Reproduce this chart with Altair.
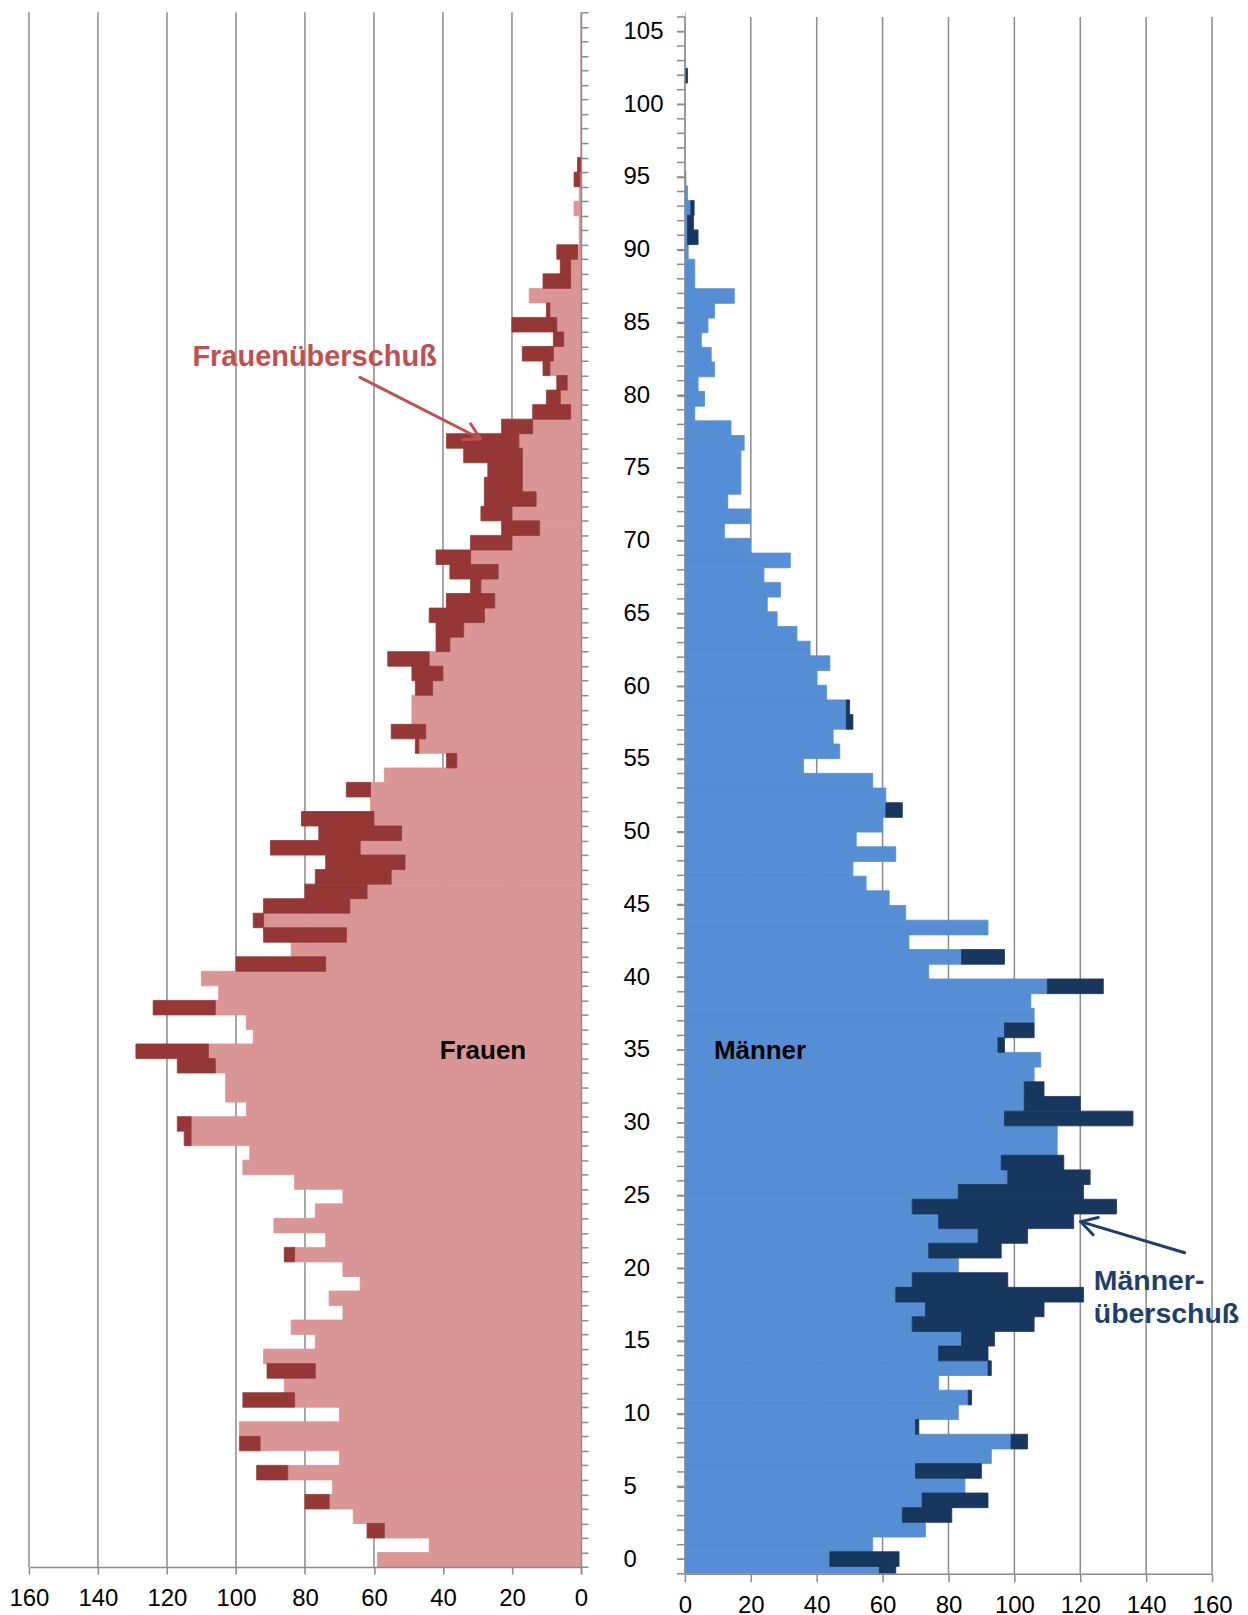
import math
import altair as alt
import pandas as pd

# ---------------- data (row k = 0 .. 106, bottom to top) ----------------
zeile = list(range(107))

frauen_basis = [
    59, 44, 57, 66, 73, 72, 85, 70, 93, 99,
    70, 83, 86, 77, 92, 77, 84, 69, 73, 64,
    69, 83, 74, 89, 77, 69, 83, 98, 96, 113,
    113, 97, 103, 103, 106, 108, 95, 97, 106, 105,
    110, 74, 84, 68, 92, 67, 62, 55, 51, 64,
    52, 60, 61, 61, 57, 36, 47, 45, 49, 49,
    43, 40, 44, 38, 34, 28, 25, 29, 24, 32,
    20, 12, 20, 13, 17, 17, 17, 18, 14, 3,
    6, 4, 9, 8, 5, 7, 9, 15, 3, 3,
    1, 0.5, 0.5, 2, 0.5, 0.3, 0, 0, 0, 0,
    0, 0, 0, 0, 0, 0, 0]

frauen_gesamt = [
    59, 44, 62, 66, 80, 72, 94, 70, 99, 99,
    70, 98, 86, 91, 92, 77, 84, 69, 73, 64,
    69, 86, 74, 89, 77, 69, 83, 98, 96, 115,
    117, 97, 103, 103, 117, 129, 95, 97, 124, 105,
    110, 100, 84, 92, 95, 92, 80, 77, 74, 90,
    76, 81, 61, 68, 57, 39, 48, 55, 49, 49,
    48, 49, 56, 42, 42, 44, 39, 32, 38, 42,
    32, 23, 29, 28, 28, 27, 34, 39, 23, 14,
    10, 7, 11, 17, 8, 20, 10, 15, 11, 6,
    7, 0.5, 0.5, 2, 0.5, 2, 1, 0, 0, 0,
    0, 0, 0, 0, 0, 0, 0]

maenner_basis = [
    59, 44, 57, 73, 66, 72, 85, 70, 93, 99,
    70, 83, 86, 77, 92, 77, 84, 69, 73, 64,
    69, 83, 74, 89, 77, 69, 83, 98, 96, 113,
    113, 97, 103, 103, 106, 108, 95, 97, 106, 105,
    110, 74, 84, 68, 92, 67, 62, 55, 51, 64,
    52, 60, 61, 61, 57, 36, 47, 45, 49, 49,
    43, 40, 44, 38, 34, 28, 25, 29, 24, 32,
    20, 12, 20, 13, 17, 17, 17, 18, 14, 3,
    6, 4, 9, 8, 5, 7, 9, 15, 3, 3,
    1, 0.8, 0.8, 1.8, 0.8, 0.3, 0, 0, 0, 0,
    0, 0, 0, 0, 0, 0, 0]

maenner_gesamt = [
    64, 65, 57, 73, 81, 92, 85, 90, 93, 104,
    71, 83, 87, 77, 93, 92, 94, 106, 109, 121,
    98, 83, 96, 104, 118, 131, 121, 123, 115, 113,
    113, 136, 120, 109, 106, 108, 97, 106, 106, 105,
    127, 74, 97, 68, 92, 67, 62, 55, 51, 64,
    52, 60, 66, 61, 57, 36, 47, 45, 51, 50,
    43, 40, 44, 38, 34, 28, 25, 29, 24, 32,
    20, 12, 20, 13, 17, 17, 17, 18, 14, 3,
    6, 4, 9, 8, 5, 7, 9, 15, 3, 3,
    1, 4, 2.6, 2.8, 0.8, 0.3, 0, 0, 0, 0,
    0, 0, 0.8, 0, 0, 0, 0]

x_werte = [0, 20, 40, 60, 80, 100, 120, 140, 160]
alter_beschriftung = list(range(0, 106, 5))
alter_striche = list(range(-1, 107))

# ---------------- style ----------------
FONT = "Liberation Sans"
GRAY = "#8A8A8A"
PINK = "#D99694"
DARKRED = "#953735"
BLUE = "#558ED5"
NAVY = "#17375E"
RED_TXT = "#C0504D"
NAVY_TXT = "#1F3F6B"

WL, WR, H = 552.9, 528.0, 1564.0

xL = alt.Scale(domain=[0, 160], reverse=True, nice=False, zero=False)
yL = alt.Scale(domain=[-0.96, 106.5], nice=False, zero=False)
xR = alt.Scale(domain=[0, 160], nice=False, zero=False)
yR = alt.Scale(domain=[-1, 106.32], nice=False, zero=False)

axis_common = dict(title=None, grid=False, domainColor=GRAY, domainWidth=1.5,
                   tickColor=GRAY, tickWidth=1.5, labelFont=FONT, labelFontSize=24,
                   labelColor="black", labelOverlap=False, labelFlush=False, zindex=1)

xaxisL = alt.Axis(values=x_werte, tickSize=7, labelPadding=12, offset=-6.7, format="d", **axis_common)
yaxisL = alt.Axis(orient="right", values=[k - 0.5 for k in range(108)], labels=False,
                  tickSize=7, **axis_common)
xaxisR = alt.Axis(values=x_werte, tickSize=8, labelPadding=12, format="d", **axis_common)
yaxisR = alt.Axis(orient="left", values=alter_beschriftung, domain=False, tickSize=8,
                  labelAlign="left", labelBaseline="middle", labelPadding=54, format="d",
                  **axis_common)


def XL(f):
    return alt.X(f, scale=xL, axis=xaxisL)


def YL(f):
    return alt.Y(f, scale=yL, axis=yaxisL)


def XR(f):
    return alt.X(f, scale=xR, axis=xaxisR)


def YR(f):
    return alt.Y(f, scale=yR, axis=yaxisR)


df_f = pd.DataFrame({"k": zeile, "basis": frauen_basis, "gesamt": frauen_gesamt})
df_m = pd.DataFrame({"k": zeile, "basis": maenner_basis, "gesamt": maenner_gesamt})
df_grid = pd.DataFrame({"v": x_werte[1:]})
df_ticks = pd.DataFrame({"t": alter_striche})

# ---------------- left panel (Frauen) ----------------
l_grid = alt.Chart(df_grid).transform_calculate(ya="-0.5", yb="106.5").mark_rule(
    color=GRAY, strokeWidth=1.5).encode(x=XL("v:Q"), y=YL("ya:Q"), y2="yb:Q")

l_base = alt.Chart(df_f).transform_calculate(
    y0="datum.k - 0.5", y1="datum.k + 0.5", z="0").mark_bar(
    color=PINK, stroke=PINK, strokeWidth=0.8, clip=True).encode(
    x=XL("z:Q"), x2="basis:Q", y=YL("y0:Q"), y2="y1:Q")

l_surplus = alt.Chart(df_f).transform_filter("datum.gesamt > datum.basis").transform_calculate(
    y0="datum.k - 0.5", y1="datum.k + 0.5").mark_bar(
    color=DARKRED, stroke=DARKRED, strokeWidth=0.8, clip=True).encode(
    x=XL("basis:Q"), x2="gesamt:Q", y=YL("y0:Q"), y2="y1:Q")


# annotation geometry (pixel model only used to shape arrowheads)
def l_px(x, y):
    return 580.7 - 3.455 * x, 1567.6 - 14.554 * (y + 0.5)


def l_val(px, py):
    return (580.7 - px) / 3.455, (1567.6 - py) / 14.554 - 0.5


def r_px(x, y):
    return 683.5 + 3.3 * x, 1574.3 - 14.57 * (y + 1)


def r_val(px, py):
    return (px - 683.5) / 3.3, (1574.3 - py) / 14.57 - 1


def arrow_segments(tail, tip, to_px, to_val, arm=18, deg=30):
    tx, ty = to_px(*tail)
    hx, hy = to_px(*tip)
    dx, dy = tx - hx, ty - hy
    n = math.hypot(dx, dy)
    ux, uy = dx / n, dy / n
    segs = [(tail, tip)]
    for s in (1, -1):
        a = math.radians(deg) * s
        vx = ux * math.cos(a) - uy * math.sin(a)
        vy = ux * math.sin(a) + uy * math.cos(a)
        segs.append((tip, to_val(hx + arm * vx, hy + arm * vy)))
    return pd.DataFrame([{"x1": a[0], "y1": a[1], "x2": b[0], "y2": b[1]} for a, b in segs])


pfeil_frauen = arrow_segments((64.05, 81.37), (29.15, 77.15), l_px, l_val)
pfeil_maenner = arrow_segments((151.7, 21.06), (120.15, 23.2), r_px, r_val)

l_arrow = alt.Chart(pfeil_frauen).mark_rule(color=RED_TXT, strokeWidth=3, strokeCap="round").encode(
    x=XL("x1:Q"), x2="x2:Q", y=YL("y1:Q"), y2="y2:Q")

l_txt1 = alt.Chart(pd.DataFrame({"t": ["Frauenüberschuß"], "x": [77.2], "y": [82.13]})).mark_text(
    font=FONT, fontSize=29, fontWeight="bold", color=RED_TXT, align="center",
    baseline="alphabetic").encode(x=XL("x:Q"), y=YL("y:Q"), text="t:N")
l_txt2 = alt.Chart(pd.DataFrame({"t": ["Frauen"], "x": [28.42], "y": [34.47]})).mark_text(
    font=FONT, fontSize=26, fontWeight="bold", color="black", align="center",
    baseline="alphabetic").encode(x=XL("x:Q"), y=YL("y:Q"), text="t:N")

left = alt.layer(l_grid, l_base, l_surplus, l_arrow, l_txt1, l_txt2).properties(width=WL, height=H)

# ---------------- right panel (Männer) ----------------
r_grid = alt.Chart(df_grid).transform_calculate(ya="-1", yb="106").mark_rule(
    color=GRAY, strokeWidth=1.5).encode(x=XR("v:Q"), y=YR("ya:Q"), y2="yb:Q")

r_base = alt.Chart(df_m).transform_calculate(
    y0="-1 + (datum.k - 0.5) * 107 / 106", y1="-1 + (datum.k + 0.5) * 107 / 106", z="0").mark_bar(
    color=BLUE, stroke=BLUE, strokeWidth=0.8, clip=True).encode(
    x=XR("z:Q"), x2="basis:Q", y=YR("y0:Q"), y2="y1:Q")

r_surplus = alt.Chart(df_m).transform_filter("datum.gesamt > datum.basis").transform_calculate(
    y0="-1 + (datum.k - 0.5) * 107 / 106", y1="-1 + (datum.k + 0.5) * 107 / 106").mark_bar(
    color=NAVY, stroke=NAVY, strokeWidth=0.8, clip=True).encode(
    x=XR("basis:Q"), x2="gesamt:Q", y=YR("y0:Q"), y2="y1:Q")

r_axisline = alt.Chart(pd.DataFrame({"v": [0]})).transform_calculate(ya="-1", yb="106").mark_rule(
    color=GRAY, strokeWidth=1.5).encode(x=XR("v:Q"), y=YR("ya:Q"), y2="yb:Q")

r_ticks = alt.Chart(df_ticks).mark_rule(color=GRAY, strokeWidth=1.5).encode(
    x=alt.value(-8), x2=alt.value(0), y=YR("t:Q"))

r_arrow = alt.Chart(pfeil_maenner).mark_rule(color=NAVY_TXT, strokeWidth=3, strokeCap="round").encode(
    x=XR("x1:Q"), x2="x2:Q", y=YR("y1:Q"), y2="y2:Q")

r_txt1 = alt.Chart(pd.DataFrame({"t": ["Männer"], "x": [22.8], "y": [34.41]})).mark_text(
    font=FONT, fontSize=26, fontWeight="bold", color="black", align="center",
    baseline="alphabetic").encode(x=XR("x:Q"), y=YR("y:Q"), text="t:N")
r_txt2 = alt.Chart(pd.DataFrame({"t": ["Männer-", "überschuß"], "x": [124.1, 124.1],
                                 "y": [18.51, 16.21]})).mark_text(
    font=FONT, fontSize=28.5, fontWeight="bold", color=NAVY_TXT, align="left",
    baseline="alphabetic").encode(x=XR("x:Q"), y=YR("y:Q"), text="t:N")

right = alt.layer(r_grid, r_base, r_surplus, r_axisline, r_ticks, r_arrow, r_txt1, r_txt2).properties(
    width=WR, height=H)

chart = alt.hconcat(left, right, spacing=34).properties(
    padding={"left": 0, "top": 2, "right": 0, "bottom": 0}
).configure_view(stroke=None)

chart.save("out.html", embed_options={"renderer": "svg", "actions": False})
